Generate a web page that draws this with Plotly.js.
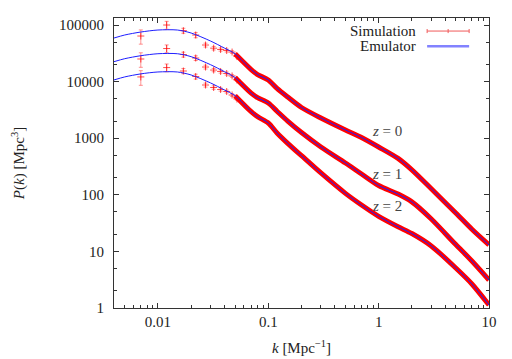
<!DOCTYPE html>
<html>
<head>
<meta charset="utf-8">
<script src="https://cdn.plot.ly/plotly-3.0.1.min.js"></script>
<style>
  html, body { margin: 0; padding: 0; background: #fff; }
  #pk { width: 512px; height: 359px; }
</style>
</head>
<body>
<div id="pk"></div>
<script>
var pkDiv = document.getElementById('pk');

// emulator curves
var kEmu = [0.004, 0.005, 0.007, 0.01, 0.015, 0.02, 0.03, 0.04, 0.05, 0.07, 0.08, 0.1, 0.12,
            0.15, 0.2, 0.3, 0.5, 0.7, 1, 1.5, 2, 3, 5, 7, 10];
var emuZ0 = [58900, 66600, 75200, 81600, 81600, 72200, 52100, 39200, 31000, 16300, 13300, 10700, 7600,
             5350, 3490, 2280, 1400, 1030, 700, 440, 276, 128, 47.7, 24.6, 13.0];
var emuZ1 = [22500, 25400, 28700, 31100, 31100, 27600, 19900, 15000, 11800, 6250, 5200, 4190, 3000,
             2010, 1260, 700, 365, 233, 146, 103, 75, 37.4, 13.2, 6.77, 3.12];
var emuZ2 = [10700, 12100, 13700, 14800, 14800, 13100, 9470, 7130, 5650, 2950, 2400, 1860, 1240,
             813, 491, 243, 106, 66, 41.7, 27.3, 20.7, 12.5, 5.09, 2.66, 1.13];

// simulation points with error bars at low k
var simK = [0.007, 0.012, 0.017, 0.022, 0.027, 0.032, 0.037, 0.042, 0.047, 0.052];
var simZ0 = [63900, 100000, 79500, 66600, 44300, 39000, 36900, 35400, 33300, 27700];
var errZ0 = [18000, 16000, 8000, 7000, 3500, 2800, 2400, 2100, 1800, 1500];
var simZ1 = [25100, 38400, 30100, 26100, 18100, 16000, 15100, 13900, 12600, 10700];
var errZ1 = [7200, 6100, 3000, 2500, 1400, 1100, 1000, 850, 700, 550];
var simZ2 = [12100, 17700, 15400, 12300, 8710, 7870, 7250, 6680, 5800, 4930];
var errZ2 = [3500, 2800, 1600, 1200, 700, 550, 470, 400, 320, 250];

// at high k the simulation points sit on the emulator and merge into a band
var bandFrom = 0.05;

var zLabels = ['0', '1', '2'];
var zLabelK = [1.18, 1.18, 1.18];
var zLabelP = [1340, 233, 63];

var red = 'rgb(255,0,0)';
var blue = 'rgb(30,30,255)';

function simTrace(y, err) {
  return {
    type: 'scatter', mode: 'markers', x: simK, y: y,
    marker: {symbol: 'cross-thin-open', size: 5, color: 'rgba(255,0,0,0.7)', line: {width: 1, color: 'rgba(255,0,0,0.7)'}},
    error_y: {type: 'data', array: err, visible: true, color: 'rgba(255,40,40,0.5)', thickness: 1, width: 2},
    hoverinfo: 'x+y'
  };
}

function bandTrace(y) {
  var bx = [], by = [];
  for (var i = 0; i < kEmu.length; i++) {
    if (kEmu[i] >= bandFrom) { bx.push(kEmu[i]); by.push(y[i]); }
  }
  return {
    type: 'scatter', mode: 'lines', x: bx, y: by,
    line: {color: red, width: 5, shape: 'spline', smoothing: 0.8},
    hoverinfo: 'skip'
  };
}

function emuTrace(y) {
  return {
    type: 'scatter', mode: 'lines', x: kEmu, y: y,
    line: {color: blue, width: 1, shape: 'spline', smoothing: 0.8},
    hoverinfo: 'x+y'
  };
}

var data = [
  simTrace(simZ0, errZ0), simTrace(simZ1, errZ1), simTrace(simZ2, errZ2),
  bandTrace(emuZ0), bandTrace(emuZ1), bandTrace(emuZ2),
  emuTrace(emuZ0), emuTrace(emuZ1), emuTrace(emuZ2)
];

// minor tick positions 2..9 in each decade (x), 2 and 5 (y)
var xMinor = [], yMinor = [];
[0.001, 0.01, 0.1, 1].forEach(function (d) {
  for (var m = 2; m <= 9; m++) xMinor.push(m * d);
});
[1, 10, 100, 1000, 10000, 100000].forEach(function (d) {
  yMinor.push(2 * d); yMinor.push(5 * d);
});

var axisCol = '#333';
var font = {family: 'Liberation Serif, serif', size: 15, color: '#222'};

var annotations = zLabels.map(function (z, i) {
  return {
    x: Math.log10(zLabelK[i]), y: Math.log10(zLabelP[i]), xref: 'x', yref: 'y',
    text: '<i>z</i> = ' + z, showarrow: false,
    font: {family: font.family, size: 15, color: '#444'}
  };
});

// legend drawn gnuplot style: text on the left, sample on the right
annotations.push({x: 0.81, y: 0.955, xref: 'paper', yref: 'paper', xanchor: 'right', yanchor: 'middle',
  text: 'Simulation', showarrow: false, font: font});
annotations.push({x: 0.81, y: 0.903, xref: 'paper', yref: 'paper', xanchor: 'right', yanchor: 'middle',
  text: 'Emulator', showarrow: false, font: font});

var shapes = [
  {type: 'line', xref: 'paper', yref: 'paper', x0: 0.835, x1: 0.947, y0: 0.955, y1: 0.955,
   line: {color: 'rgb(240,90,90)', width: 1}},
  {type: 'line', xref: 'paper', yref: 'paper', x0: 0.835, x1: 0.835, y0: 0.948, y1: 0.962,
   line: {color: 'rgb(240,90,90)', width: 1}},
  {type: 'line', xref: 'paper', yref: 'paper', x0: 0.891, x1: 0.891, y0: 0.948, y1: 0.962,
   line: {color: 'rgb(240,90,90)', width: 1}},
  {type: 'line', xref: 'paper', yref: 'paper', x0: 0.947, x1: 0.947, y0: 0.948, y1: 0.962,
   line: {color: 'rgb(240,90,90)', width: 1}},
  {type: 'line', xref: 'paper', yref: 'paper', x0: 0.835, x1: 0.947, y0: 0.903, y1: 0.903,
   line: {color: 'rgb(130,130,255)', width: 2.5}}
];

var layout = {
  width: 512, height: 359,
  margin: {l: 114, r: 23, t: 18, b: 51},
  paper_bgcolor: '#fff', plot_bgcolor: '#fff',
  showlegend: false,
  font: font,
  xaxis: {
    type: 'log', range: [Math.log10(0.004), 1],
    tickmode: 'array', tickvals: [0.01, 0.1, 1, 10], ticktext: ['0.01', '0.1', '1', '10'],
    ticks: 'inside', ticklen: 5, tickcolor: axisCol, tickwidth: 1,
    minor: {tickmode: 'array', tickvals: xMinor, ticks: 'inside', ticklen: 3, tickcolor: axisCol, showgrid: false},
    showline: true, linecolor: axisCol, linewidth: 1, mirror: 'allticks',
    showgrid: false, zeroline: false,
    title: {text: '<i>k</i> [Mpc<sup>−1</sup>]', font: font, standoff: 13}
  },
  yaxis: {
    type: 'log', range: [0, 5.124],
    tickmode: 'array', tickvals: [1, 10, 100, 1000, 10000, 100000],
    ticktext: ['1', '10', '100', '1000', '10000', '100000'],
    ticks: 'inside', ticklen: 5, tickcolor: axisCol, tickwidth: 1, ticklabelstandoff: 6,
    minor: {tickmode: 'array', tickvals: yMinor, ticks: 'inside', ticklen: 3, tickcolor: axisCol, showgrid: false},
    showline: true, linecolor: axisCol, linewidth: 1, mirror: 'allticks',
    showgrid: false, zeroline: false,
    title: {text: '<i>P</i>(<i>k</i>) [Mpc<sup>3</sup>]', font: font, standoff: 30}
  },
  annotations: annotations,
  shapes: shapes
};

Plotly.newPlot(pkDiv, data, layout, {displayModeBar: false, staticPlot: true});
</script>
</body>
</html>
